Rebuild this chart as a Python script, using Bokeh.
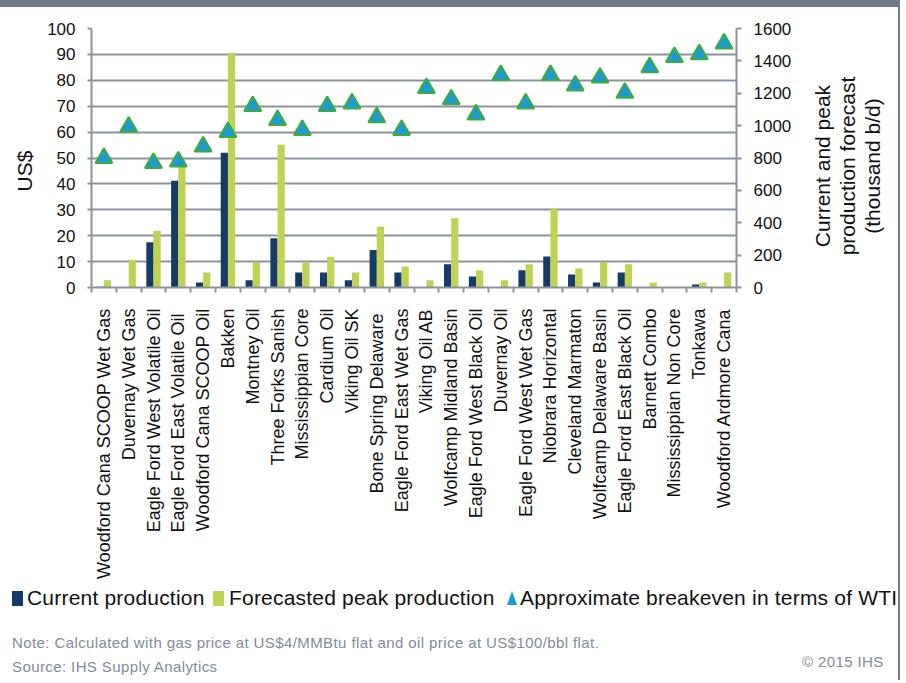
import math
from bokeh.plotting import figure
from bokeh.layouts import column, row
from bokeh.models import (Range1d, LinearAxis, FixedTicker, ColumnDataSource, Div)
from bokeh.transform import dodge
from bokeh.embed import file_html
from bokeh.resources import INLINE

# ---------------- data ----------------
plays = [
    "Woodford Cana SCOOP Wet Gas", "Duvernay Wet Gas", "Eagle Ford West Volatile Oil",
    "Eagle Ford East  Volatile Oil", "Woodford Cana SCOOP Oil", "Bakken", "Montney Oil",
    "Three Forks Sanish", "Mississippian Core", "Cardium Oil", "Viking Oil SK",
    "Bone Spring  Delaware", "Eagle Ford East Wet Gas", "Viking Oil AB",
    "Wolfcamp Midland Basin", "Eagle Ford West Black Oil", "Duvernay Oil",
    "Eagle Ford West Wet Gas", "Niobrara Horizontal", "Cleveland Marmaton",
    "Wolfcamp Delaware Basin", "Eagle Ford East Black Oil", "Barnett Combo",
    "Mississippian Non Core", "Tonkawa", "Woodford Ardmore Cana",
]
# thousand b/d (right axis)
current_production = [4, 3, 280, 660, 31, 833, 45, 304, 93, 93, 45, 231, 93, 3,
                      143, 68, 3, 107, 192, 81, 31, 93, 3, 3, 19, 3]
forecast_peak = [45, 170, 350, 750, 93, 1450, 155, 882, 155, 190, 93, 376, 130, 45,
                 428, 107, 45, 143, 486, 118, 155, 143, 31, 3, 31, 93]
# US$ (left axis)
breakeven_wti = [50, 62, 48, 48.6, 54.4, 60, 70, 64.6, 60.8, 70, 71, 65.7, 60.8, 77,
                 72.6, 66.8, 82, 71, 82, 78, 81, 75.2, 85, 89, 90, 94.2]

usd_ticks = [0, 10, 20, 30, 40, 50, 60, 70, 80, 90, 100]
prod_ticks = [0, 200, 400, 600, 800, 1000, 1200, 1400, 1600]

legend_labels = ["Current production", "Forecasted peak production",
                 "Approximate breakeven in terms of WTI"]
right_title = ["Current and peak", "production forecast", "(thousand b/d)"]
left_title = "US$"
note_text = "Note: Calculated with gas price at US$4/MMBtu flat and oil price at US$100/bbl  flat."
source_text = "Source: IHS Supply  Analytics"
copyright_text = "&copy; 2015 IHS"

# ---------------- style ----------------
FONT = "Liberation Sans"
NAVY = "#163b64"
OLIVE = "#bed254"
BLUE = "#1b9ad6"
TRI_EDGE = "#3fac3a"
GRID = "#8a939d"
NOTE = "#7f8b9a"
FRAME = "#6e7b88"
INK = "#111111"

PLOT_H = 576

idx = list(range(len(plays)))
src = ColumnDataSource(dict(idx=idx, play=plays, current=current_production,
                            forecast=forecast_peak, breakeven=breakeven_wti))

p = figure(width=760, height=PLOT_H, output_backend="svg", toolbar_location=None,
           x_range=Range1d(-0.5, len(plays) - 0.5),
           y_range=Range1d(usd_ticks[0], usd_ticks[-1]),
           min_border_left=51, min_border_right=64, min_border_top=21,
           min_border_bottom=296)
p.extra_y_ranges = {"prod": Range1d(prod_ticks[0], prod_ticks[-1])}
p.outline_line_color = None
p.background_fill_color = "white"
p.border_fill_color = "white"

# grid
p.xgrid.grid_line_color = None
p.ygrid.grid_line_color = GRID
p.ygrid.grid_line_width = 2

# x axis (ticks between categories, labels at centres)
xa = p.xaxis[0]
xa.ticker = FixedTicker(ticks=idx, minor_ticks=[i - 0.5 for i in range(len(plays) + 1)])
xa.major_label_overrides = {i: name for i, name in zip(idx, plays)}
xa.major_label_orientation = math.pi / 2
xa.major_tick_line_color = None
xa.major_tick_out = 0
xa.major_tick_in = 0
xa.minor_tick_line_color = GRID
xa.minor_tick_line_width = 2
xa.minor_tick_out = 5
xa.minor_tick_in = 0
xa.major_label_standoff = 16
xa.axis_line_color = GRID
xa.axis_line_width = 2
xa.major_label_text_font = FONT
xa.major_label_text_font_size = "18px"
xa.major_label_text_color = INK

# left axis (US$)
ya = p.yaxis[0]
ya.ticker = FixedTicker(ticks=usd_ticks)
ya.axis_line_color = GRID
ya.axis_line_width = 2
ya.major_tick_line_color = GRID
ya.major_tick_line_width = 2
ya.major_tick_out = 4
ya.major_tick_in = 0
ya.minor_tick_line_color = None
ya.major_label_standoff = 12
ya.major_label_text_font = FONT
ya.major_label_text_font_size = "17px"
ya.major_label_text_color = INK

# right axis (thousand b/d)
ra = LinearAxis(y_range_name="prod", ticker=FixedTicker(ticks=prod_ticks))
ra.axis_line_color = GRID
ra.axis_line_width = 2
ra.major_tick_line_color = GRID
ra.major_tick_line_width = 2
ra.major_tick_out = 5
ra.major_tick_in = 0
ra.minor_tick_line_color = None
ra.major_label_standoff = 12
ra.major_label_text_font = FONT
ra.major_label_text_font_size = "17px"
ra.major_label_text_color = INK
p.add_layout(ra, "right")

# bars and markers
p.vbar(x=dodge("idx", -0.145), top="current", width=0.29, source=src,
       y_range_name="prod", fill_color=NAVY, line_color=None)
p.vbar(x=dodge("idx", 0.145), top="forecast", width=0.29, source=src,
       y_range_name="prod", fill_color=OLIVE, line_color=None)
p.scatter(x="idx", y="breakeven", marker="triangle", size=17, source=src,
          fill_color=BLUE, line_color=TRI_EDGE, line_width=2)

# ---------------- HTML pieces around the plot ----------------
rot = ("position:absolute;transform:translate(-50%,-50%) rotate(-90deg);"
       f"white-space:nowrap;text-align:center;font-family:'{FONT}';font-size:21px;"
       f"line-height:25px;color:{INK};")
edge = f"position:absolute;width:2px;background:{FRAME};"

left_html = (f"<div style=\"position:relative;width:40px;height:{PLOT_H}px;\">"
             f"<div style=\"{rot}left:24px;top:164px;\">{left_title}</div></div>")
right_html = (f"<div style=\"position:relative;width:100px;height:{PLOT_H}px;\">"
              f"<div style=\"{rot}left:47px;top:159px;\">{'<br>'.join(right_title)}</div>"
              f"<div style=\"{edge}left:98px;top:0px;height:{PLOT_H}px;\"></div></div>")
left_div = Div(text=left_html, width=40, height=PLOT_H, margin=0)
right_div = Div(text=right_html, width=100, height=PLOT_H, margin=0)

sq = "position:absolute;width:11px;height:15px;top:8px;"
tri = ("position:absolute;top:8px;width:0;height:0;border-left:5px solid transparent;"
       f"border-right:5px solid transparent;border-bottom:14px solid {BLUE};")
lab = (f"position:absolute;top:2px;font-size:21px;line-height:26px;color:{INK};"
       "letter-spacing:0.2px;")
nt = f"position:absolute;font-size:15px;line-height:18px;color:{NOTE};letter-spacing:0.4px;"
bottom_html = (
    f"<div style=\"position:relative;width:900px;height:97px;font-family:'{FONT}';"
    f"white-space:nowrap;\">"
    f"<span style=\"{sq}left:12px;background:{NAVY};\"></span>"
    f"<span style=\"{lab}left:27px;\">{legend_labels[0]}</span>"
    f"<span style=\"{sq}left:213px;background:{OLIVE};\"></span>"
    f"<span style=\"{lab}left:229px;\">{legend_labels[1]}</span>"
    f"<span style=\"{tri}left:507px;\"></span>"
    f"<span style=\"{lab}left:520px;\">{legend_labels[2]}</span>"
    f"<div style=\"{nt}left:12px;top:51px;\">{note_text}</div>"
    f"<div style=\"{nt}left:12px;top:75px;\">{source_text}</div>"
    f"<div style=\"{nt}left:802px;top:70px;\">{copyright_text}</div>"
    f"<div style=\"{edge}left:898px;top:0px;height:97px;\"></div>"
    f"</div>"
)
bottom = Div(text=bottom_html, width=900, height=97, margin=0)

top_bar = Div(text=(f"<div style=\"display:block;position:relative;width:900px;height:7px;"
                    f"background:{FRAME};\"></div>"),
              width=900, height=7, margin=0,
              styles={"background-color": FRAME, "overflow": "hidden"})

page = column(top_bar, row(left_div, p, right_div, spacing=0), bottom, spacing=0)

open("out.html", "w").write(file_html(page, INLINE))
